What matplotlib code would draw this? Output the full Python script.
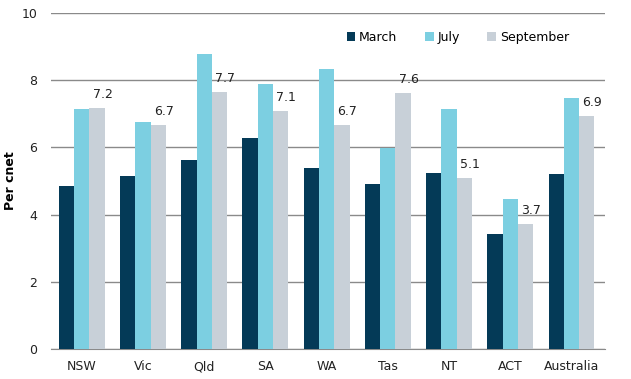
import numpy as np
import matplotlib
matplotlib.use("Agg")
import matplotlib.pyplot as plt

regions = ["NSW", "Vic", "Qld", "SA", "WA", "Tas", "NT", "ACT", "Australia"]
march = [4.85, 5.15, 5.63, 6.28, 5.39, 4.91, 5.24, 3.42, 5.21]
july = [7.14, 6.76, 8.78, 7.89, 8.33, 5.98, 7.14, 4.46, 7.47]
september = [7.17, 6.67, 7.65, 7.08, 6.67, 7.62, 5.09, 3.72, 6.93]
sept_labels = ["7.2", "6.7", "7.7", "7.1", "6.7", "7.6", "5.1", "3.7", "6.9"]

c_march = "#043a57"
c_july = "#7ccfe1"
c_sept = "#c8d0d8"

fig = plt.figure(figsize=(6.31, 3.79), dpi=100)
ax = fig.add_axes([0.081, 0.079, 0.878, 0.887])

x = np.arange(len(regions))
w = 0.25
ax.bar(x - w, march, w, color=c_march, label="March", zorder=3)
ax.bar(x, july, w, color=c_july, label="July", zorder=3)
ax.bar(x + w, september, w, color=c_sept, label="September", zorder=3)

for xi, v, s in zip(x, september, sept_labels):
    ax.annotate(s, (xi + w, v), xytext=(4, 5), textcoords="offset points",
                ha="center", va="bottom", fontsize=9, color="#222222")

ax.set_ylim(0, 10)
ax.set_xlim(-0.5, 8.55)
ax.set_yticks([0, 2, 4, 6, 8, 10])
ax.set_xticks(x)
ax.set_xticklabels(regions)
ax.yaxis.grid(True, color="#8a8a8a", linewidth=1, zorder=0)
ax.tick_params(length=0, labelsize=9, colors="#222222")
ax.tick_params(axis="x", pad=8)
ax.tick_params(axis="y", pad=10)
for sp in ["top", "right", "left"]:
    ax.spines[sp].set_visible(False)
ax.spines["bottom"].set_color("#8a8a8a")
ax.set_ylabel("Per cnet", fontsize=9, fontweight="bold")
ax.yaxis.set_label_coords(-0.062, 0.5)

ax.legend(loc="upper right", bbox_to_anchor=(0.955, 0.98), ncol=3, frameon=False,
          fontsize=9, handlelength=0.7, handleheight=0.7, columnspacing=2.2,
          handletextpad=0.3)

fig.savefig("out.png", dpi=100)
